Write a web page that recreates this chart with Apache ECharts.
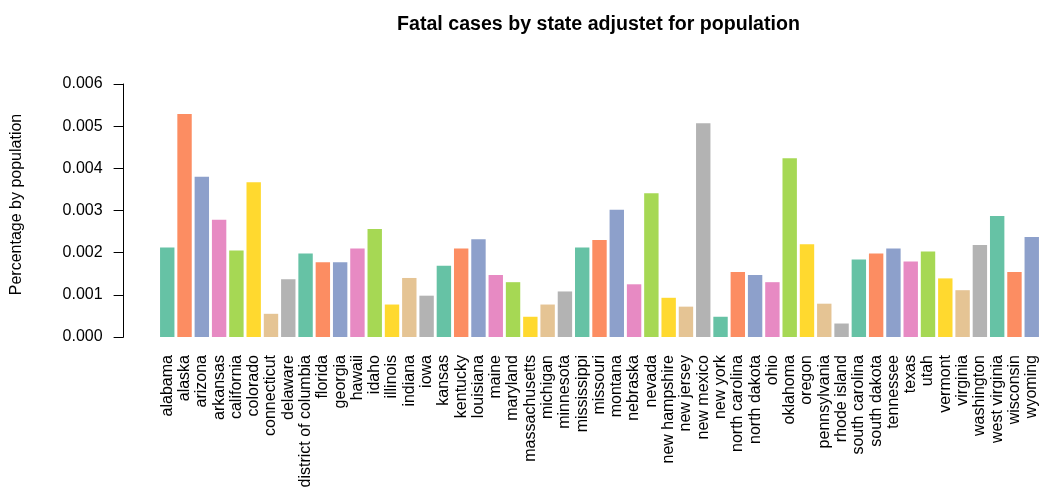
<!DOCTYPE html>
<html><head><meta charset="utf-8">
<script src="https://cdn.jsdelivr.net/npm/echarts@6/dist/echarts.min.js"></script>
<style>html,body{margin:0;padding:0;background:#fff}#c{width:1043px;height:493px}</style>
</head><body><div id="c"></div>
<script>
const states = ["alabama","alaska","arizona","arkansas","california","colorado","connecticut","delaware","district of columbia","florida","georgia","hawaii","idaho","illinois","indiana","iowa","kansas","kentucky","louisiana","maine","maryland","massachusetts","michigan","minnesota","mississippi","missouri","montana","nebraska","nevada","new hampshire","new jersey","new mexico","new york","north carolina","north dakota","ohio","oklahoma","oregon","pennsylvania","rhode island","south carolina","south dakota","tennessee","texas","utah","vermont","virginia","washington","west virginia","wisconsin","wyoming"];
const fatalRate = [0.00212,0.00529,0.00380,0.00278,0.00205,0.00367,0.00055,0.00137,0.00198,0.00177,0.00177,0.00210,0.00256,0.00077,0.00140,0.00098,0.00169,0.00210,0.00232,0.00147,0.00130,0.00048,0.00077,0.00108,0.00212,0.00230,0.00302,0.00125,0.00341,0.00093,0.00072,0.00507,0.00048,0.00154,0.00147,0.00130,0.00424,0.00220,0.00079,0.00032,0.00184,0.00198,0.00210,0.00179,0.00203,0.00139,0.00111,0.00218,0.00287,0.00154,0.00237];
const yTicks = [0,0.001,0.002,0.003,0.004,0.005,0.006];
const palette = ["#66C2A5","#FC8D62","#8DA0CB","#E78AC3","#A6D854","#FFD92F","#E5C494","#B3B3B3"];

const chart = echarts.init(document.getElementById('c'), null, {renderer:'canvas'});
const font = "Liberation Sans, Arial, sans-serif";
chart.setOption({
  animation:false,
  textStyle:{fontFamily:font},
  title:{text:"Fatal cases by state adjustet for population", left:593.5, textAlign:'center', top:10,
    textStyle:{fontFamily:font, fontWeight:'bold', fontSize:19.6, color:'#000'}},
  graphic:[{type:'text', x:17, y:204.5, rotation:Math.PI/2,
    style:{text:"Percentage by population", font:"16px " + font, fill:'#000', textAlign:'center', textVerticalAlign:'middle'}}],
  grid:{left:158.6, right:2.6, top:84, bottom:156, containLabel:false, outerBoundsMode:'none'},
  xAxis:{type:'category', data:states,
    axisLine:{show:false}, axisTick:{show:false},
    axisLabel:{rotate:90, interval:0, fontSize:16, color:'#000', margin:18, fontFamily:font},
    name:"US states", nameLocation:'middle', nameGap:150,
    nameTextStyle:{fontSize:16, color:'#000', fontFamily:font}},
  yAxis:{type:'value', min:yTicks[0], max:yTicks[yTicks.length-1], interval:0.001, offset:35,
    axisLine:{show:true, lineStyle:{color:'#000', width:1}},
    axisTick:{show:true, length:10, lineStyle:{color:'#000'}},
    splitLine:{show:false},
    axisLabel:{fontSize:16, color:'#000', margin:21, fontFamily:font, formatter:v=>v.toFixed(3)}},
  series:[{type:'bar', barCategoryGap:'16.7%',
    data:fatalRate.map((v,i)=>({value:v, itemStyle:{color:palette[i%palette.length]}}))}]
});
</script></body></html>
